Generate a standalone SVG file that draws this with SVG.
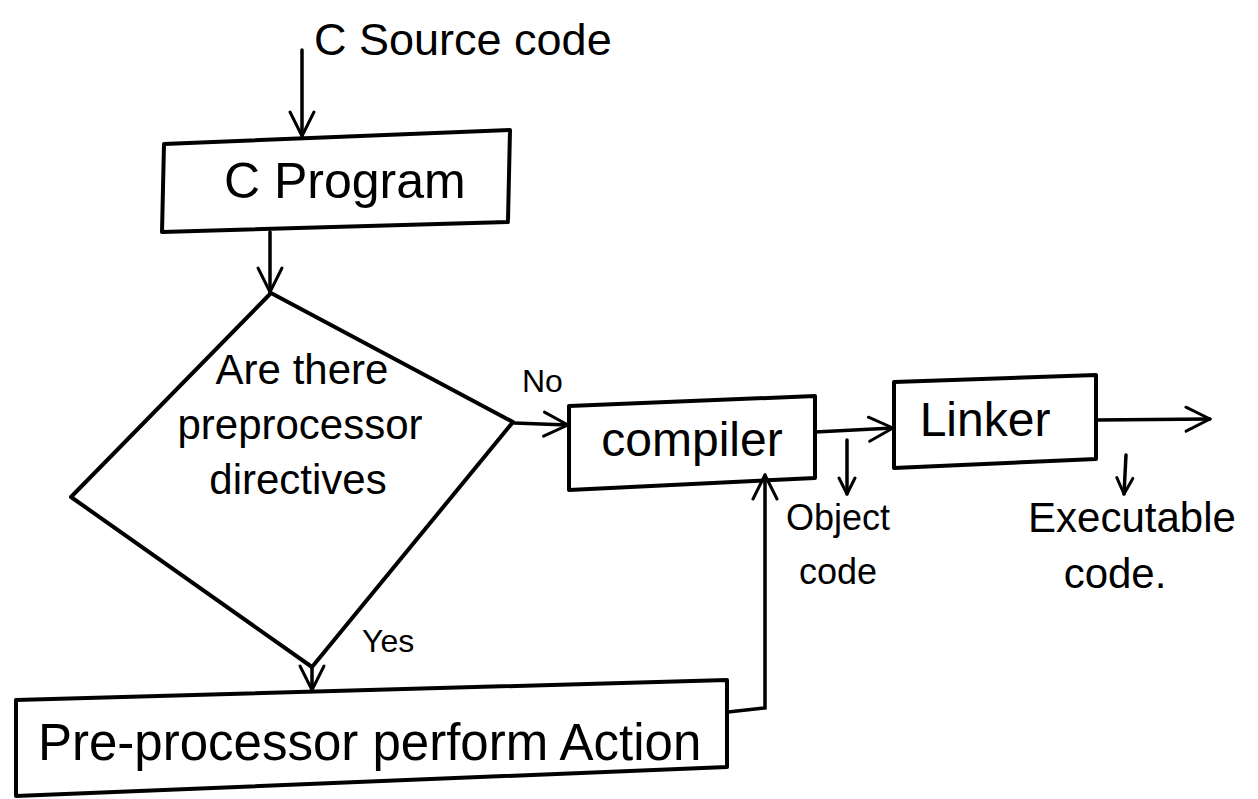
<svg xmlns="http://www.w3.org/2000/svg" width="1258" height="799" viewBox="0 0 1258 799">
<defs>
<marker id="arr" viewBox="0 0 20 20" refX="18" refY="10" markerWidth="20" markerHeight="20" markerUnits="userSpaceOnUse" orient="auto">
<path d="M2,2 L18,10 L2,18" fill="none" stroke="#000" stroke-width="3" stroke-linecap="round" stroke-linejoin="round"/>
</marker>
<marker id="arrL" viewBox="0 0 30 30" refX="27" refY="15" markerWidth="30" markerHeight="30" markerUnits="userSpaceOnUse" orient="auto">
<path d="M3,3 L27,15 L3,27" fill="none" stroke="#000" stroke-width="3" stroke-linecap="round" stroke-linejoin="round"/>
</marker>
</defs>
<style>
.s{fill:none;stroke:#000;stroke-width:4;stroke-linejoin:round;stroke-linecap:round}
.c{fill:none;stroke:#000;stroke-width:3.5;stroke-linecap:round}
.t{font-family:"Liberation Sans",Arial,sans-serif;fill:#000}
</style>
<rect width="1258" height="799" fill="#fff"/>
<g id="source-label"><text class="t" font-size="45" x="314" y="55">C Source code</text></g>
<g id="c-program">
<path class="s" d="M164,144 L510,130 L508,220 M508,222 L162,232 L164,144"/>
<text class="t" font-size="50" x="224" y="198">C Program</text>
</g>
<g id="decision">
<path class="s" d="M271,293 L513,422 L312,667 L71,497 Z"/>
<text class="t" font-size="42" x="302" y="384" text-anchor="middle">Are there</text>
<text class="t" font-size="42" x="300" y="439" text-anchor="middle">preprocessor</text>
<text class="t" font-size="42" x="298" y="494" text-anchor="middle">directives</text>
</g>
<g id="label-no"><text class="t" font-size="32" x="522" y="392">No</text></g>
<g id="label-yes"><text class="t" font-size="32" x="362" y="652">Yes</text></g>
<g id="compiler">
<path class="s" d="M569,406 L815,396 L815,478 L569,490 Z"/>
<text class="t" font-size="48" x="692" y="456" text-anchor="middle">compiler</text>
</g>
<g id="linker">
<path class="s" d="M894,382 L1096,375 L1096,459 L894,468 Z"/>
<text class="t" font-size="48" x="985" y="436" text-anchor="middle">Linker</text>
</g>
<g id="preprocessor-action">
<path class="s" d="M16,700 L727,680 L727,767 L16,796 Z"/>
<text class="t" font-size="51" x="38" y="760">Pre-processor perform Action</text>
</g>
<g id="object-code"><text class="t" font-size="36" x="838" y="530" text-anchor="middle">Object</text><text class="t" font-size="36" x="838" y="584" text-anchor="middle">code</text></g>
<g id="executable-code"><text class="t" font-size="42" x="1132" y="532" text-anchor="middle">Executable</text><text class="t" font-size="42" x="1115" y="588" text-anchor="middle">code.</text></g>
<g id="connectors">
<path class="c" d="M302,50 L302,136" marker-end="url(#arrL)"/>
<path class="c" d="M270,232 L270,292" marker-end="url(#arrL)"/>
<path class="c" d="M514,423 L568,425" marker-end="url(#arrL)"/>
<path class="c" d="M312,668 L312,690" marker-end="url(#arrL)"/>
<path class="c" d="M815,432 L893,428" marker-end="url(#arrL)"/>
<path class="c" d="M1096,420 L1210,419" marker-end="url(#arrL)"/>
<path class="c" d="M847,440 L847,494" marker-end="url(#arr)"/>
<path class="c" d="M1126,455 L1124,494" marker-end="url(#arr)"/>
<path class="c" d="M728,712 L765,708 L765,475" marker-end="url(#arrL)"/>
</g>
</svg>
